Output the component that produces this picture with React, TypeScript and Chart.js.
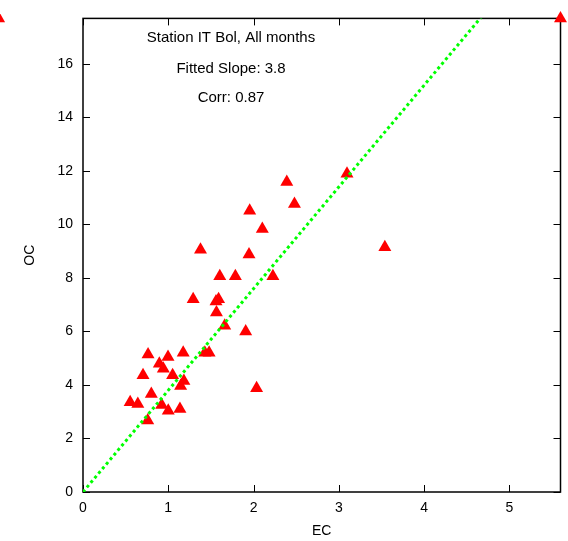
import { useEffect, useRef } from 'react';
import { Chart, registerables } from 'chart.js';

Chart.register(...registerables);

// EC (x) and OC (y) values
const ecValues = [
  0.763, 0.997, 1.175, 0.895, 0.942, 1.051, 0.704, 1.183, 1.145, 0.801,
  0.553, 0.643, 0.923, 1.0, 1.137, 0.759, 1.429, 1.479,
  1.955, 2.103, 1.378, 1.947, 1.604, 1.787, 2.227, 1.292, 1.56, 1.59,
  1.565, 1.662, 1.908, 2.39, 2.48, 3.096, 3.54, 2.036, 5.6,
];
const ocValues = [
  5.14, 5.05, 5.2, 4.79, 4.61, 4.36, 4.36, 4.15, 3.96, 3.66,
  3.35, 3.29, 3.25, 3.04, 3.1, 2.67, 5.2, 5.2,
  10.51, 9.83, 9.05, 8.88, 8.06, 8.06, 8.06, 7.2, 7.12, 7.2,
  6.71, 6.21, 6.0, 11.59, 10.76, 11.89, 9.15, 3.88, 17.7,
];

// Fitted line (slope 3.8) end points
const fitLineEC = [0, 4.7];
const fitLineOC = [0, 17.86];

// Partially visible key sample at the top-left corner
const keyEC = [-0.99];
const keyOC = [17.7];

const xTicks = [0, 1, 2, 3, 4, 5];
const yTicks = [0, 2, 4, 6, 8, 10, 12, 14, 16];
const xRange = [0, 5.6];
const yRange = [0, 17.7];

const xTitle = 'EC';
const yTitle = 'OC';
const annotationLines = ['Station IT Bol, All months', 'Fitted Slope: 3.8', 'Corr: 0.87'];

const FONT_FAMILY = '"Liberation Sans", Arial, Helvetica, sans-serif';

export default function App() {
  const canvasRef = useRef<HTMLCanvasElement | null>(null);

  useEffect(() => {
    const canvas = canvasRef.current;
    if (!canvas) return;

    const font = { family: FONT_FAMILY, size: 14 };

    const framePlugin = {
      id: 'frameAndTicks',
      beforeDatasetsDraw(chart: any) {
        const { ctx, chartArea: a, scales } = chart;
        ctx.save();
        ctx.strokeStyle = '#000';
        ctx.lineWidth = 1;
        const tl = 7;
        ctx.beginPath();
        for (const t of scales.x.ticks) {
          const px = Math.round(scales.x.getPixelForValue(t.value)) + 0.5;
          ctx.moveTo(px, a.bottom);
          ctx.lineTo(px, a.bottom - tl);
          ctx.moveTo(px, a.top);
          ctx.lineTo(px, a.top + tl);
        }
        for (const t of scales.y.ticks) {
          const py = Math.round(scales.y.getPixelForValue(t.value)) + 0.5;
          ctx.moveTo(a.left, py);
          ctx.lineTo(a.left + tl, py);
          ctx.moveTo(a.right, py);
          ctx.lineTo(a.right - tl, py);
        }
        ctx.stroke();
        ctx.lineWidth = 1.5;
        ctx.strokeRect(a.left, a.top, a.right - a.left, a.bottom - a.top);
        ctx.restore();
      },
      afterDatasetsDraw(chart: any) {
        // key sample lies outside the chart area; draw its element without area clipping
        const meta = chart.getDatasetMeta(2);
        const { ctx } = chart;
        ctx.save();
        meta.data.forEach((el: any) => el.draw(ctx));
        ctx.restore();
      },
      afterDraw(chart: any) {
        const { ctx } = chart;
        ctx.save();
        ctx.fillStyle = '#000';
        ctx.font = `15px ${FONT_FAMILY}`;
        ctx.textAlign = 'center';
        ctx.textBaseline = 'middle';
        const ys = [38, 69, 98];
        annotationLines.forEach((s, i) => ctx.fillText(s, 231, ys[i]));
        ctx.restore();
      },
    };

    const chart = new Chart(canvas, {
      type: 'scatter',
      data: {
        datasets: [
          {
            label: 'fit',
            type: 'line',
            data: fitLineEC.map((x, i) => ({ x, y: fitLineOC[i] })),
            borderColor: '#00ff00',
            borderWidth: 3,
            borderDash: [3, 3],
            pointRadius: 0,
            showLine: true,
            fill: false,
            order: 0,
          } as any,
          {
            label: 'OC vs EC',
            data: ecValues.map((x, i) => ({ x, y: ocValues[i] })),
            pointStyle: 'triangle',
            pointRadius: 7.5,
            backgroundColor: '#ff0000',
            borderColor: '#ff0000',
            borderWidth: 0,
            clip: false,
            order: 1,
          } as any,
          {
            label: 'key',
            data: keyEC.map((x, i) => ({ x, y: keyOC[i] })),
            pointStyle: 'triangle',
            pointRadius: 7.5,
            backgroundColor: '#ff0000',
            borderColor: '#ff0000',
            borderWidth: 0,
            clip: false,
            order: 2,
          } as any,
        ],
      },
      options: {
        animation: false,
        responsive: false,
        devicePixelRatio: 1,
        layout: { padding: { left: 0, right: 6, top: 15, bottom: 0 } },
        plugins: { legend: { display: false }, tooltip: { enabled: false } },
        scales: {
          x: {
            type: 'linear',
            min: xRange[0],
            max: xRange[1],
            afterFit(s: any) {
              s.height = 49;
            },
            afterBuildTicks(s: any) {
              s.ticks = xTicks.map((v) => ({ value: v }));
            },
            ticks: { font, color: '#000', padding: 7.6, includeBounds: false },
            grid: { display: false, drawTicks: false },
            border: { display: false },
            title: { display: true, text: xTitle, font, color: '#000', padding: { top: 0, bottom: 1.6 } },
          },
          y: {
            type: 'linear',
            min: yRange[0],
            max: yRange[1],
            afterFit(s: any) {
              s.width = 83;
            },
            afterBuildTicks(s: any) {
              s.ticks = yTicks.map((v) => ({ value: v }));
            },
            ticks: { font, color: '#000', padding: 10, includeBounds: false },
            grid: { display: false, drawTicks: false },
            border: { display: false },
            title: { display: true, text: yTitle, font, color: '#000', padding: { top: 21.6, bottom: 0 } },
          },
        },
      } as any,
      plugins: [framePlugin],
    });

    return () => chart.destroy();
  }, []);

  return (
    <div style={{ position: 'absolute', left: 0, top: 0, width: 568, height: 541, background: '#fff' }}>
      <canvas ref={canvasRef} width={568} height={541} style={{ width: 568, height: 541, display: 'block' }} />
    </div>
  );
}
